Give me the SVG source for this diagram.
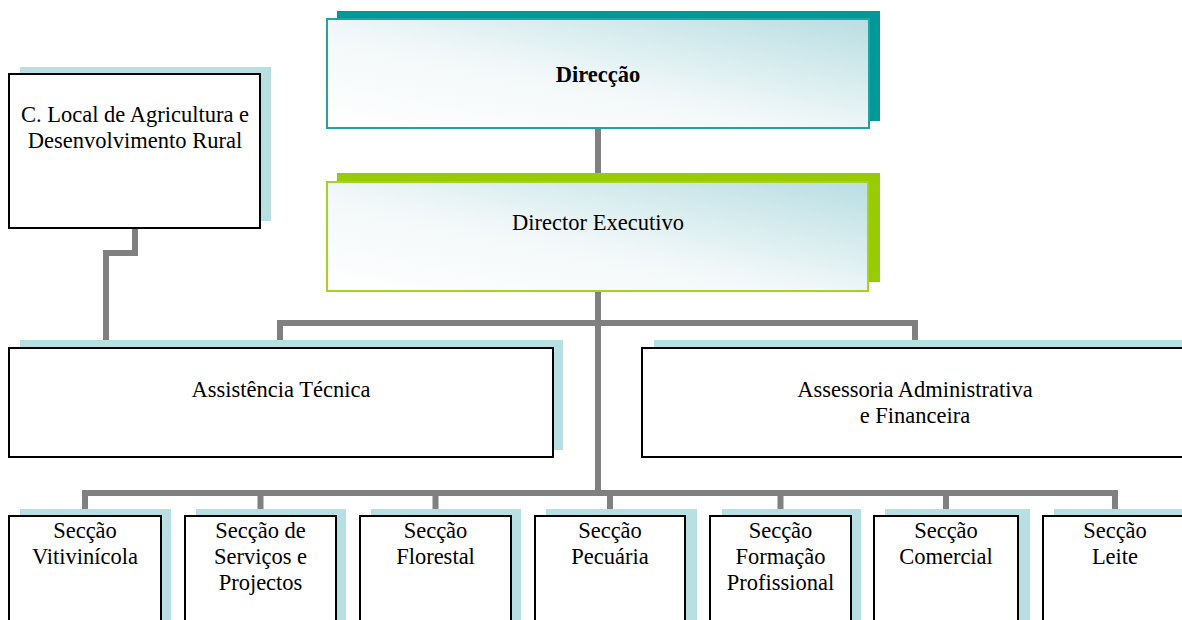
<svg xmlns="http://www.w3.org/2000/svg" width="1182" height="620" viewBox="0 0 1182 620">
<defs>
<linearGradient id="g" x1="0" y1="1" x2="1" y2="0">
<stop offset="0" stop-color="#ffffff"/>
<stop offset="0.45" stop-color="#f2f8f9"/>
<stop offset="1" stop-color="#b9dee2"/>
</linearGradient>
<style>
.t{font-family:"Liberation Serif","Times New Roman",serif;font-size:22.5px;fill:#000;text-anchor:middle}
.b{font-weight:bold}
.sh{fill:#b8dfe2}
.bx{fill:#fff;stroke:#000;stroke-width:2}
.c{fill:none;stroke:#808080;stroke-width:6}
</style>
</defs>
<rect width="1182" height="620" fill="#fff"/>
<g id="connectors">
<path class="c" d="M598,128 V182"/>
<path class="c" d="M598,291 V493"/>
<path class="c" d="M280,342 V323 H915 V342"/>
<path class="c" d="M135,228 V253 H106 V342"/>
<path class="c" d="M85,511 V493 H1115 V511"/>
<path class="c" d="M260.5,493 V511 M435.5,493 V511 M610,493 V511 M780.5,493 V511 M946,493 V511"/>
</g>
<g id="direccao">
<rect x="337" y="11" width="543" height="110" fill="#009999"/>
<rect x="327" y="19" width="542" height="109" fill="url(#g)" stroke="#21a3a3" stroke-width="2"/>
<text class="t b" x="598" y="82">Direcção</text>
</g>
<g id="director-executivo">
<rect x="337" y="173" width="543" height="109" fill="#99cc00"/>
<rect x="327" y="182" width="541" height="109" fill="url(#g)" stroke="#a6d41e" stroke-width="2"/>
<text class="t" x="598" y="230">Director Executivo</text>
</g>
<g id="clocal">
<rect class="sh" x="20" y="67" width="251" height="154"/>
<rect class="bx" x="9" y="74" width="251" height="154"/>
<text class="t" x="135" y="122">C. Local de Agricultura e</text>
<text class="t" x="135" y="148">Desenvolvimento Rural</text>
</g>
<g id="assistencia">
<rect class="sh" x="20" y="340" width="543" height="110"/>
<rect class="bx" x="9" y="348" width="544" height="109"/>
<text class="t" x="281" y="397">Assistência Técnica</text>
</g>
<g id="assessoria">
<rect class="sh" x="654" y="340" width="545" height="110"/>
<rect class="bx" x="642" y="348" width="546" height="109"/>
<text class="t" x="915" y="397">Assessoria Administrativa</text>
<text class="t" x="915" y="423">e Financeira</text>
</g>
<g id="s1">
<rect class="sh" x="20" y="509" width="151" height="130"/>
<rect class="bx" x="9" y="516" width="152" height="130"/>
<text class="t" x="85" y="538">Secção</text>
<text class="t" x="85" y="564">Vitivinícola</text>
</g>
<g id="s2">
<rect class="sh" x="196" y="509" width="150" height="130"/>
<rect class="bx" x="185" y="516" width="151" height="130"/>
<text class="t" x="260.5" y="538">Secção de</text>
<text class="t" x="260.5" y="564">Serviços e</text>
<text class="t" x="260.5" y="590">Projectos</text>
</g>
<g id="s3">
<rect class="sh" x="371" y="509" width="150" height="130"/>
<rect class="bx" x="360" y="516" width="151" height="130"/>
<text class="t" x="435.5" y="538">Secção</text>
<text class="t" x="435.5" y="564">Florestal</text>
</g>
<g id="s4">
<rect class="sh" x="546" y="509" width="151" height="130"/>
<rect class="bx" x="535" y="516" width="150" height="130"/>
<text class="t" x="610" y="538">Secção</text>
<text class="t" x="610" y="564">Pecuária</text>
</g>
<g id="s5">
<rect class="sh" x="722" y="509" width="139" height="130"/>
<rect class="bx" x="710" y="516" width="141" height="130"/>
<text class="t" x="780.5" y="538">Secção</text>
<text class="t" x="780.5" y="564">Formação</text>
<text class="t" x="780.5" y="590">Profissional</text>
</g>
<g id="s6">
<rect class="sh" x="885" y="509" width="145" height="130"/>
<rect class="bx" x="874" y="516" width="144" height="130"/>
<text class="t" x="946" y="538">Secção</text>
<text class="t" x="946" y="564">Comercial</text>
</g>
<g id="s7">
<rect class="sh" x="1054" y="509" width="145" height="130"/>
<rect class="bx" x="1043" y="516" width="144" height="130"/>
<text class="t" x="1115" y="538">Secção</text>
<text class="t" x="1115" y="564">Leite</text>
</g>
</svg>
